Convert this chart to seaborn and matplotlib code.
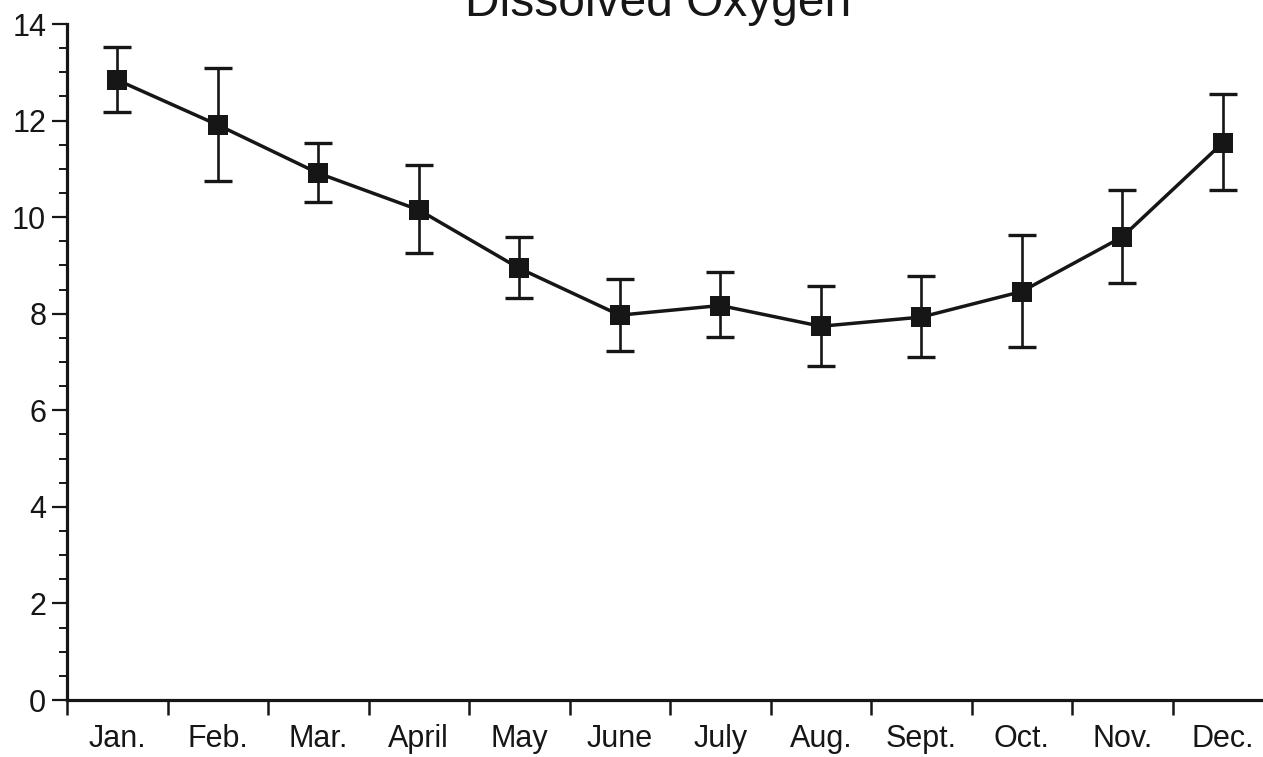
import matplotlib
matplotlib.use("Agg")
import matplotlib.pyplot as plt
import seaborn as sns
import numpy as np
import pandas as pd
from matplotlib.ticker import MultipleLocator, FixedLocator

months = ["Jan.", "Feb.", "Mar.", "April", "May", "June", "July", "Aug.",
          "Sept.", "Oct.", "Nov.", "Dec."]
do_mean = [12.84, 11.91, 10.91, 10.15, 8.94, 7.97, 8.17, 7.74, 7.93, 8.46, 9.59, 11.54]
do_high = [13.53, 13.09, 11.53, 11.08, 9.58, 8.71, 8.86, 8.57, 8.78, 9.63, 10.56, 12.55]
do_low = [12.18, 10.75, 10.31, 9.25, 8.32, 7.22, 7.51, 6.91, 7.10, 7.32, 8.63, 10.56]
title = "Dissolved Oxygen"

sns.set_theme(style="ticks")
plt.rcParams["font.family"] = ["Liberation Sans", "DejaVu Sans"]

ink = "#161616"
df = pd.DataFrame({"x": np.arange(len(months)), "do": do_mean})

fig = plt.figure(figsize=(12.63, 7.57), dpi=100)
ax = fig.add_axes([67 / 1263, 57 / 757, 1206 / 1263, 676 / 757])

mean = np.array(do_mean)
yerr = np.vstack([mean - np.array(do_low), np.array(do_high) - mean])
ax.errorbar(df["x"], df["do"], yerr=yerr, fmt="none", ecolor=ink,
            elinewidth=1.9, capsize=10, capthick=2.4, zorder=2)
sns.lineplot(data=df, x="x", y="do", ax=ax, color=ink, linewidth=2.5,
             marker="s", markersize=15, markeredgewidth=0,
             markerfacecolor=ink, zorder=3)

ax.set_xlim(-0.5, len(months) - 0.5)
ax.set_ylim(0, 14)
ax.yaxis.set_major_locator(MultipleLocator(2))
ax.yaxis.set_minor_locator(MultipleLocator(0.5))
ax.xaxis.set_major_locator(FixedLocator(np.arange(-0.5, len(months), 1.0)))
ax.xaxis.set_minor_locator(FixedLocator(np.arange(len(months))))
ax.set_xticklabels([])
ax.set_xticklabels(months, minor=True)

ax.tick_params(axis="x", which="major", length=11, width=1.8, color=ink,
               direction="out")
ax.tick_params(axis="x", which="minor", length=0, pad=17, labelsize=22,
               labelcolor=ink)
ax.tick_params(axis="y", which="major", length=11, width=1.6, color=ink,
               pad=4, labelsize=22, labelcolor=ink)
ax.tick_params(axis="y", which="minor", length=6, width=1.4, color=ink)

for side in ["top", "right"]:
    ax.spines[side].set_visible(False)
for side in ["left", "bottom"]:
    ax.spines[side].set_linewidth(2.3)
    ax.spines[side].set_color(ink)

ax.set_xlabel("")
ax.set_ylabel("")
fig.text(658 / 1263, 1 - 16 / 757, title, ha="center", va="baseline",
         fontsize=34.5, color=ink)

fig.savefig("out.png", dpi=100)
